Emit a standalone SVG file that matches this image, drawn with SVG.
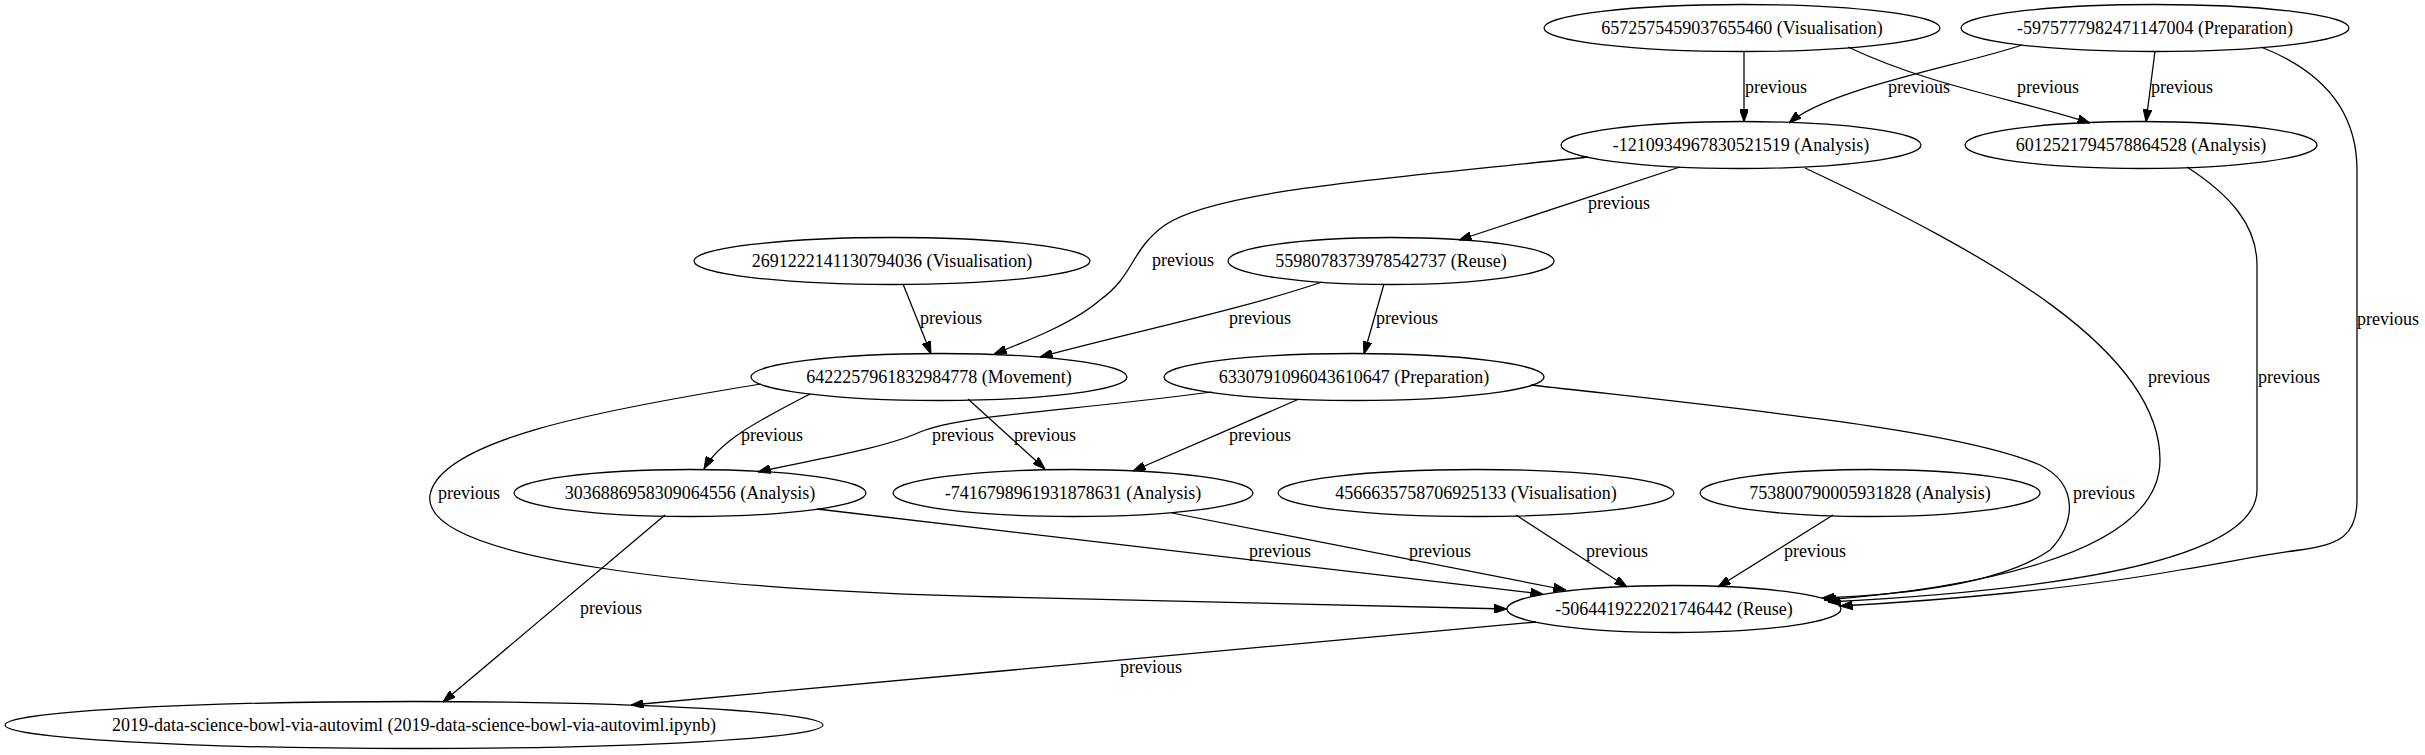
<svg xmlns="http://www.w3.org/2000/svg" width="2425" height="755" viewBox="0 0 2425 755">
<style>
  .node ellipse { fill: none; stroke: #000; stroke-width: 1.26; }
  .node text { font-family: "Liberation Serif", "Times New Roman", serif; font-size: 18px; text-anchor: middle; fill: #000; }
  .edge path { fill: none; stroke: #000; stroke-width: 1.26; marker-end: url(#arrow); }
  .edge text { font-family: "Liberation Serif", "Times New Roman", serif; font-size: 18px; text-anchor: middle; fill: #000; }
</style>
<defs>
  <marker id="arrow" markerUnits="userSpaceOnUse" viewBox="0 0 12.6 8.8" refX="12.6" refY="4.4" markerWidth="12.6" markerHeight="8.8" orient="auto">
    <path d="M0,0 L12.6,4.4 L0,8.8 z" fill="#000" stroke="#000" stroke-width="1"/>
  </marker>
</defs>
<rect x="0" y="0" width="2425" height="755" fill="#fff"/>

<g id="connectors">
  <g class="edge" id="e1"><path d="M1744,51 L1744,122"/><text x="1776" y="93">previous</text></g>
  <g class="edge" id="e2"><path d="M1848,47 C1930,86 2020,100 2090,123"/><text x="2048" y="93">previous</text></g>
  <g class="edge" id="e3"><path d="M2022,45 C1960,66 1830,88 1789,123"/><text x="1919" y="93">previous</text></g>
  <g class="edge" id="e4"><path d="M2155,51 L2146,122"/><text x="2182" y="93">previous</text></g>
  <g class="edge" id="e5"><path d="M2261,47 C2320,70 2357,108 2357,170 L2357,500 C2357,535 2340,545 2300,550 C2260,555 2230,562 2180,570 C2080,588 1950,600 1840,606"/><text x="2388" y="325">previous</text></g>
  <g class="edge" id="e6"><path d="M1588,157 C1420,176 1220,188 1165,225 C1130,250 1135,275 1100,300 C1075,322 1030,340 994,354"/><text x="1183" y="266">previous</text></g>
  <g class="edge" id="e7"><path d="M1680,167 L1459,240"/><text x="1619" y="209">previous</text></g>
  <g class="edge" id="e8"><path d="M1805,168 C1990,255 2160,350 2160,460 C2160,560 1950,590 1824,600"/><text x="2179" y="383">previous</text></g>
  <g class="edge" id="e9"><path d="M2187,167 C2230,195 2257,225 2257,265 L2257,490 C2257,570 2000,593 1828,602"/><text x="2289" y="383">previous</text></g>
  <g class="edge" id="e10"><path d="M903,284 L931,354"/><text x="951" y="324">previous</text></g>
  <g class="edge" id="e11"><path d="M1322,282 C1240,310 1120,335 1040,357"/><text x="1260" y="324">previous</text></g>
  <g class="edge" id="e12"><path d="M1384,284 L1364,354"/><text x="1407" y="324">previous</text></g>
  <g class="edge" id="e13"><path d="M810,394 C760,420 720,440 704,469"/><text x="772" y="441">previous</text></g>
  <g class="edge" id="e14"><path d="M968,399 L1045,469"/><text x="1045" y="441">previous</text></g>
  <g class="edge" id="e15"><path d="M761,384 C600,410 440,440 430,495 C420,560 700,590 1000,597 C1200,603 1400,607 1507,609"/><text x="469" y="499">previous</text></g>
  <g class="edge" id="e16"><path d="M1212,392 C1060,412 960,415 920,432 C880,450 800,462 758,472"/><text x="963" y="441">previous</text></g>
  <g class="edge" id="e17"><path d="M1299,399 L1133,471"/><text x="1260" y="441">previous</text></g>
  <g class="edge" id="e18"><path d="M1531,385 C1750,410 1960,430 2040,465 C2080,485 2075,525 2050,550 C2000,585 1900,595 1822,598"/><text x="2104" y="499">previous</text></g>
  <g class="edge" id="e19"><path d="M817,509 L1543,594"/><text x="1280" y="557">previous</text></g>
  <g class="edge" id="e20"><path d="M665,515 L443,702"/><text x="611" y="614">previous</text></g>
  <g class="edge" id="e21"><path d="M1172,513 L1566,590"/><text x="1440" y="557">previous</text></g>
  <g class="edge" id="e22"><path d="M1516,515 L1627,587"/><text x="1617" y="557">previous</text></g>
  <g class="edge" id="e23"><path d="M1833,515 L1718,587"/><text x="1815" y="557">previous</text></g>
  <g class="edge" id="e24"><path d="M1536,622 L631,705"/><text x="1151" y="673">previous</text></g>
</g>

<g class="node" id="n_vis657"><ellipse cx="1742" cy="28" rx="198" ry="23.5"/><text x="1742" y="34">6572575459037655460 (Visualisation)</text></g>
<g class="node" id="n_prep597"><ellipse cx="2155" cy="28" rx="194" ry="23.5"/><text x="2155" y="34">-5975777982471147004 (Preparation)</text></g>
<g class="node" id="n_an121"><ellipse cx="1741" cy="145" rx="180" ry="23.5"/><text x="1741" y="151">-1210934967830521519 (Analysis)</text></g>
<g class="node" id="n_an601"><ellipse cx="2141" cy="145" rx="176" ry="23.5"/><text x="2141" y="151">6012521794578864528 (Analysis)</text></g>
<g class="node" id="n_vis269"><ellipse cx="892" cy="261" rx="198" ry="23.5"/><text x="892" y="267">2691222141130794036 (Visualisation)</text></g>
<g class="node" id="n_reuse559"><ellipse cx="1391" cy="261" rx="163" ry="23.5"/><text x="1391" y="267">5598078373978542737 (Reuse)</text></g>
<g class="node" id="n_mov642"><ellipse cx="939" cy="377" rx="188" ry="23.5"/><text x="939" y="383">6422257961832984778 (Movement)</text></g>
<g class="node" id="n_prep633"><ellipse cx="1354" cy="377" rx="190" ry="23.5"/><text x="1354" y="383">6330791096043610647 (Preparation)</text></g>
<g class="node" id="n_an303"><ellipse cx="690" cy="493" rx="176" ry="23.5"/><text x="690" y="499">3036886958309064556 (Analysis)</text></g>
<g class="node" id="n_an741"><ellipse cx="1073" cy="493" rx="180" ry="23.5"/><text x="1073" y="499">-7416798961931878631 (Analysis)</text></g>
<g class="node" id="n_vis456"><ellipse cx="1476" cy="493" rx="198" ry="23.5"/><text x="1476" y="499">4566635758706925133 (Visualisation)</text></g>
<g class="node" id="n_an753"><ellipse cx="1870" cy="493" rx="170" ry="23.5"/><text x="1870" y="499">753800790005931828 (Analysis)</text></g>
<g class="node" id="n_reuse506"><ellipse cx="1674" cy="609" rx="167" ry="23.5"/><text x="1674" y="615">-5064419222021746442 (Reuse)</text></g>
<g class="node" id="n_2019"><ellipse cx="414" cy="725" rx="409" ry="23.5"/><text x="414" y="731">2019-data-science-bowl-via-autoviml (2019-data-science-bowl-via-autoviml.ipynb)</text></g>
</svg>
